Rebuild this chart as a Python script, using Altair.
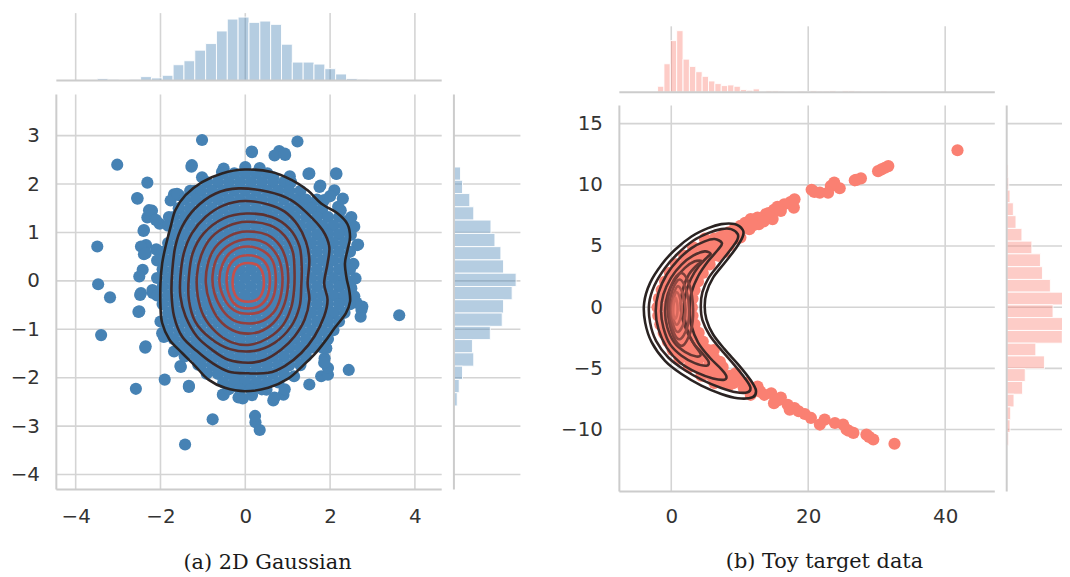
import altair as alt
import pandas as pd

# ------------------------------------------------------------------ data
A_X_TICKS = [-4, -2, 0, 2, 4]
A_Y_TICKS = [-4, -3, -2, -1, 0, 1, 2, 3]
B_X_TICKS = [0, 20, 40]
B_Y_TICKS = [-10, -5, 0, 5, 10, 15]

A_X_DOMAIN = [-4.456, 4.632]
A_Y_DOMAIN = [-4.31, 3.85]
B_X_DOMAIN = [-7.58, 47.25]
B_Y_DOMAIN = [-15.06, 16.49]

# marginal histograms (bin edges + counts)
A_TOP_EDGES = [-3.49, -3.235, -2.979, -2.724, -2.468, -2.213, -1.957, -1.702, -1.446, -1.191,
               -0.935, -0.680, -0.424, -0.169, 0.087, 0.343, 0.598, 0.854, 1.109, 1.365,
               1.620, 1.876, 2.131, 2.387, 2.642, 2.898, 3.153, 3.409, 3.664]
A_TOP_COUNTS = [3, 2, 0, 2, 6, 4, 8, 24, 30, 46, 56, 75, 93, 96, 88, 90, 85, 55, 28, 28,
                25, 18, 10, 3, 2, 0, 0, 1]
A_TOP_MAX = 102

A_RIGHT_EDGES = [2.352, 2.078, 1.804, 1.530, 1.255, 0.981, 0.707, 0.433, 0.158, -0.116,
                 -0.390, -0.665, -0.939, -1.213, -1.487, -1.762, -2.036, -2.310, -2.584]
A_RIGHT_COUNTS = [10, 13, 24, 30, 56, 62, 71, 75, 94, 88, 75, 73, 55, 28, 30, 13, 8, 5]
A_RIGHT_MAX = 100.5

B_TOP_EDGES = [-2.00, -1.07, -0.14, 0.79, 1.72, 2.65, 3.58, 4.51, 5.44, 6.37, 7.30, 8.23,
               9.16, 10.09, 11.02, 11.95, 12.88, 13.81, 14.74, 15.67, 16.60, 17.53, 18.46,
               19.39, 20.32, 21.25, 22.18, 23.11, 24.04, 24.97, 25.90, 26.83, 27.76, 28.69,
               29.62, 30.55, 31.48, 32.41, 33.34, 34.27, 35.20, 36.13, 37.06, 37.99, 38.92,
               39.85, 40.78, 41.71, 42.64]
B_TOP_COUNTS = [9, 43, 78, 93, 50, 39, 31, 24, 17, 13, 10, 11, 9, 4, 3, 5, 1, 2, 2, 1.5, 1, 1,
                1.5, 1, 2, 1.5, 1.5, 2, 1, 2, 2, 1.5, 1, 1, 1, 1.5, 1, 1,
                0, 0, 0, 0, 0, 0, 0, 0, 0, 1]
B_TOP_MAX = 99.6

B_RIGHT_EDGES = [11.65, 10.61, 9.57, 8.53, 7.48, 6.44, 5.40, 4.36, 3.31, 2.27, 1.23, 0.19,
                 -0.85, -1.90, -2.94, -3.98, -5.03, -6.07, -7.11, -8.15, -9.20, -10.24, -11.28]
B_RIGHT_COUNTS = [2, 3, 5, 10, 14, 23, 38, 51, 54, 66, 93, 70, 90, 84, 44, 57, 28, 24, 11, 6, 5, 3]
B_RIGHT_MAX = 100.5

# 2D Gaussian: points visible around the dense core
A_OUTER = [(-1.02, 2.91), (1.23, 2.88), (0.15, 2.67), (0.80, 2.68), (0.94, 2.60), (-3.02, 2.40),
           (-1.27, 2.36), (-2.31, 2.03), (-1.02, 2.14), (-0.55, 2.25), (0.00, 2.35), (0.34, 2.33),
           (0.66, 2.14), (1.05, 2.16), (1.49, 2.21), (2.15, 2.21), (1.77, 1.97), (-2.55, 1.71),
           (-1.68, 1.79), (-1.56, 1.77), (-1.19, 1.86), (-2.20, 1.45), (-2.31, 1.31), (-2.02, 1.18),
           (-2.40, 1.03), (-2.34, 0.74), (-2.10, 0.65), (-2.39, 0.55), (-3.49, 0.71), (-3.47, -0.07),
           (2.19, 1.53), (2.48, 1.29), (2.44, 1.05), (2.66, 0.75), (1.79, 1.40), (1.95, 0.98),
           (-1.76, 1.66), (1.31, 1.66), (1.55, 1.53),
           (-3.19, -0.34), (-2.48, -0.29), (-2.52, -0.64), (-2.18, -0.25), (-3.40, -1.12),
           (-2.36, -1.38), (-2.00, -0.84), (-1.92, -1.16), (-1.68, -1.46), (-1.52, -1.78),
           (-1.40, -1.39), (-1.19, -1.39), (-1.11, -1.73), (-1.90, -2.04), (-2.58, -2.23),
           (-1.33, -2.19), (-0.53, -2.35), (-0.06, -2.43), (0.16, -2.36), (0.50, -2.25),
           (0.66, -2.47), (0.90, -2.35), (-0.77, -2.86), (0.24, -2.92), (0.34, -3.08),
           (-1.42, -3.38), (1.51, -2.14), (1.79, -1.97), (1.95, -1.94), (1.95, -1.80),
           (1.87, -1.60), (1.91, -1.39), (2.44, -1.84), (1.15, -1.97), (2.74, -0.60),
           (2.72, -0.74), (2.56, -0.36), (2.27, -0.40), (2.07, -0.67), (3.63, -0.71),
           (2.23, -0.09), (-0.23, -2.04), (-0.63, -1.90),
           (-1.26, 2.39), (-2.54, 1.70), (-2.27, 1.46), (-2.11, 1.26), (-2.39, 1.05), (-2.46, 0.71),
           (-2.35, 0.57), (-2.42, 0.23), (-2.50, 0.09), (-2.46, -0.25), (-2.50, -0.63),
           (-2.19, -0.19), (-2.35, -1.35), (-1.96, -1.08), (-1.53, -1.76), (-1.33, -2.17),
           (-0.51, -2.35), (-0.16, -2.41), (0.23, -2.79), (0.69, -2.41), (0.93, -2.24),
           (1.86, -1.69), (2.76, -0.53), (2.57, -0.32), (2.64, 0.74), (2.49, 0.95), (2.57, 1.12),
           (2.50, 1.32), (2.25, 1.46), (2.14, 2.22), (1.51, 2.22), (0.69, 2.59), (0.93, 2.63),
           (0.16, 2.66), (-0.51, 2.32), (-1.61, 1.80), (-1.57, 1.50), (-1.80, 1.32), (1.75, 1.94),
           (1.86, 1.67), (2.10, 1.87), (2.55, 0.35), (2.60, 0.05), (2.50, -0.15), (2.62, -0.45),
           (2.30, 1.70), (2.00, 1.75)]

# 2D Gaussian: the solid, overplotted core, row by row (y, xs)
A_CORE_ROWS = [
    (2.22, [-0.52, -0.26, 0.00, 0.26, 0.52]),
    (2.04, [-0.91, -0.65, -0.39, -0.13, 0.13, 0.39, 0.65, 0.91, 1.08]),
    (1.86, [-1.30, -1.04, -0.78, -0.52, -0.26, 0.00, 0.26, 0.52, 0.78, 1.04, 1.30]),
    (1.68, [-1.43, -1.17, -0.91, -0.65, -0.39, -0.13, 0.13, 0.39, 0.65, 0.91, 1.17, 1.43, 1.69]),
    (1.50, [-1.56, -1.30, -1.04, -0.78, -0.52, -0.26, 0.00, 0.26, 0.52, 0.78, 1.04, 1.30, 1.56, 1.82]),
    (1.32, [-1.69, -1.43, -1.17, -0.91, -0.65, -0.39, -0.13, 0.13, 0.39, 0.65, 0.91, 1.17, 1.43, 1.69,
            1.95, 2.21]),
    (1.14, [-1.82, -1.56, -1.30, -1.04, -0.78, -0.52, -0.26, 0.00, 0.26, 0.52, 0.78, 1.04, 1.30, 1.56,
            1.82, 2.08, 2.34]),
    (0.96, [-1.69, -1.43, -1.17, -0.91, -0.65, -0.39, -0.13, 0.13, 0.39, 0.65, 0.91, 1.17, 1.43, 1.69,
            1.95, 2.21, 2.47]),
    (0.78, [-1.82, -1.56, -1.30, -1.04, -0.78, -0.52, -0.26, 0.00, 0.26, 0.52, 0.78, 1.04, 1.30, 1.56,
            1.82, 2.08, 2.34]),
    (0.60, [-1.95, -1.69, -1.43, -1.17, -0.91, -0.65, -0.39, -0.13, 0.13, 0.39, 0.65, 0.91, 1.17, 1.43,
            1.69, 1.95, 2.21, 2.47]),
    (0.42, [-2.08, -1.82, -1.56, -1.30, -1.04, -0.78, -0.52, -0.26, 0.00, 0.26, 0.52, 0.78, 1.04, 1.30,
            1.56, 1.82, 2.08, 2.34]),
    (0.24, [-1.95, -1.69, -1.43, -1.17, -0.91, -0.65, -0.39, -0.13, 0.13, 0.39, 0.65, 0.91, 1.17, 1.43,
            1.69, 1.95, 2.21, 2.47]),
    (0.06, [-2.08, -1.82, -1.56, -1.30, -1.04, -0.78, -0.52, -0.26, 0.00, 0.26, 0.52, 0.78, 1.04, 1.30,
            1.56, 1.82, 2.08, 2.34]),
    (-0.12, [-1.95, -1.69, -1.43, -1.17, -0.91, -0.65, -0.39, -0.13, 0.13, 0.39, 0.65, 0.91, 1.17, 1.43,
             1.69, 1.95, 2.21, 2.47]),
    (-0.30, [-2.08, -1.82, -1.56, -1.30, -1.04, -0.78, -0.52, -0.26, 0.00, 0.26, 0.52, 0.78, 1.04, 1.30,
             1.56, 1.82, 2.08, 2.34]),
    (-0.48, [-1.95, -1.69, -1.43, -1.17, -0.91, -0.65, -0.39, -0.13, 0.13, 0.39, 0.65, 0.91, 1.17, 1.43,
             1.69, 1.95, 2.21, 2.47]),
    (-0.66, [-1.82, -1.56, -1.30, -1.04, -0.78, -0.52, -0.26, 0.00, 0.26, 0.52, 0.78, 1.04, 1.30, 1.56,
             1.82, 2.08, 2.34]),
    (-0.84, [-1.95, -1.69, -1.43, -1.17, -0.91, -0.65, -0.39, -0.13, 0.13, 0.39, 0.65, 0.91, 1.17, 1.43,
             1.69, 1.95, 2.21]),
    (-1.02, [-1.82, -1.56, -1.30, -1.04, -0.78, -0.52, -0.26, 0.00, 0.26, 0.52, 0.78, 1.04, 1.30, 1.56,
             1.82, 2.08]),
    (-1.20, [-1.69, -1.43, -1.17, -0.91, -0.65, -0.39, -0.13, 0.13, 0.39, 0.65, 0.91, 1.17, 1.43, 1.69,
             1.95]),
    (-1.38, [-1.56, -1.30, -1.04, -0.78, -0.52, -0.26, 0.00, 0.26, 0.52, 0.78, 1.04, 1.30, 1.56, 1.82]),
    (-1.56, [-1.43, -1.17, -0.91, -0.65, -0.39, -0.13, 0.13, 0.39, 0.65, 0.91, 1.17, 1.43]),
    (-1.74, [-1.04, -0.78, -0.52, -0.26, 0.00, 0.26, 0.52, 0.78, 1.04, 1.30]),
    (-1.92, [-0.91, -0.65, -0.39, -0.13, 0.13, 0.39, 0.65, 0.91]),
    (-2.10, [-0.52, -0.26, 0.00, 0.26, 0.52, 0.78]),
    (-2.24, [-0.39, -0.13, 0.13, 0.39]),
]

# Toy target: the two arms and the overplotted crescent core
B_UPPER = [(41.8, 12.83), (31.7, 11.53), (31.2, 11.40), (30.7, 11.26), (30.2, 11.12), (27.7, 10.53),
           (27.0, 10.40), (26.8, 10.37), (24.6, 9.72), (23.8, 10.18), (23.3, 9.90), (22.9, 9.36),
           (21.7, 9.36), (20.9, 9.42), (20.5, 9.60), (18.0, 8.82), (17.9, 8.14), (17.4, 8.60),
           (16.5, 8.41), (16.0, 7.87), (15.5, 8.20), (15.0, 7.95), (14.8, 7.20), (14.2, 7.70),
           (13.8, 7.60), (13.2, 7.20), (12.6, 7.33), (11.6, 7.20), (12.8, 6.79), (11.4, 6.38),
           (10.1, 6.65), (9.7, 6.11), (9.2, 6.38), (8.4, 6.11), (7.7, 5.98), (7.0, 5.70), (6.2, 5.30),
           (9.2, 5.57), (10.1, 5.70), (8.4, 5.03), (7.7, 4.49), (10.8, 6.90), (12.0, 6.70),
           (13.5, 7.00)]
B_LOWER = [(32.6, -11.16), (29.5, -10.81), (28.9, -10.60), (28.5, -10.41), (26.6, -10.27),
           (25.9, -10.10), (25.6, -10.00), (25.1, -9.59), (23.9, -9.46), (22.4, -9.19),
           (21.7, -9.59), (20.4, -9.05), (19.5, -8.73), (18.0, -8.24), (17.3, -8.38), (17.0, -7.97),
           (16.0, -7.38), (15.0, -7.84), (14.6, -7.03), (13.6, -7.16), (12.6, -6.49), (11.6, -7.16),
           (12.2, -6.80), (10.6, -6.62), (9.7, -5.95), (9.4, -5.41), (8.4, -6.35), (7.7, -6.08),
           (7.0, -5.68), (7.1, -4.46), (6.2, -3.51), (11.0, -6.20), (13.0, -6.90), (15.6, -7.60),
           (18.6, -8.50)]
B_CORE_ROWS = [
    (5.6, [4.9, 6.3, 7.7]),
    (4.9, [3.2, 4.6, 6.0, 7.4]),
    (4.2, [1.9, 3.3, 4.7, 6.1, 6.9]),
    (3.5, [0.7, 2.1, 3.5, 4.9, 5.6]),
    (2.8, [-0.2, 1.2, 2.6, 4.0, 4.6]),
    (2.1, [-0.9, 0.5, 1.9, 3.3, 3.9]),
    (1.4, [-1.4, 0.0, 1.4, 2.8, 3.4]),
    (0.7, [-1.8, -0.4, 1.0, 2.4, 3.1]),
    (0.0, [-2.0, -0.6, 0.8, 2.2, 3.0]),
    (-0.7, [-1.9, -0.5, 0.9, 2.3, 3.1]),
    (-1.4, [-1.6, -0.2, 1.2, 2.6, 3.4]),
    (-2.1, [-1.1, 0.3, 1.7, 3.1, 4.0]),
    (-2.8, [-0.5, 0.9, 2.3, 3.7, 4.6]),
    (-3.5, [0.2, 1.6, 3.0, 4.4, 5.4]),
    (-4.2, [1.2, 2.6, 4.0, 5.4, 6.3]),
    (-4.9, [2.6, 4.0, 5.4, 6.8, 7.5]),
    (-5.6, [4.4, 5.8, 7.2, 8.6]),
    (-6.2, [6.3, 7.7, 9.1]),
]

# KDE contour lines (outermost first)
A_CONTOURS = [
    [(-0.01, 2.30), (0.62, 2.25), (1.08, 2.09), (1.47, 1.87), (1.79, 1.60), (2.18, 1.39), (2.41, 1.17),
     (2.47, 0.90), (2.41, 0.64), (2.35, 0.36), (2.39, 0.05), (2.45, -0.19), (2.47, -0.43),
     (2.37, -0.67), (2.11, -0.97), (1.88, -1.25), (1.63, -1.52), (1.36, -1.75), (1.01, -2.02),
     (0.54, -2.21), (-0.01, -2.28), (-0.48, -2.21), (-0.87, -2.04), (-1.18, -1.76), (-1.49, -1.49),
     (-1.79, -1.21), (-1.96, -0.87), (-2.00, -0.53), (-2.00, -0.05), (-1.96, 0.36), (-1.88, 0.71),
     (-1.76, 1.12), (-1.65, 1.46), (-1.41, 1.77), (-1.02, 2.04), (-0.55, 2.22)],
    [(-0.16, 1.91), (0.54, 1.84), (1.08, 1.67), (1.47, 1.39), (1.82, 1.05), (1.98, 0.71), (1.94, 0.36),
     (1.86, -0.05), (1.94, -0.39), (1.86, -0.73), (1.63, -1.15), (1.32, -1.49), (0.93, -1.76),
     (0.54, -1.90), (0.07, -1.91), (-0.40, -1.87), (-0.79, -1.69), (-1.14, -1.45), (-1.49, -1.15),
     (-1.68, -0.73), (-1.74, -0.25), (-1.72, 0.23), (-1.65, 0.71), (-1.49, 1.12), (-1.18, 1.50),
     (-0.71, 1.80)],
    [(-0.01, 1.65), (0.54, 1.58), (0.93, 1.43), (1.24, 1.15), (1.43, 0.81), (1.51, 0.43), (1.47, -0.05),
     (1.51, -0.39), (1.40, -0.80), (1.16, -1.15), (0.85, -1.42), (0.46, -1.63), (0.07, -1.69),
     (-0.40, -1.63), (-0.79, -1.42), (-1.14, -1.15), (-1.41, -0.73), (-1.53, -0.32), (-1.53, 0.09),
     (-1.45, 0.57), (-1.26, 0.98), (-0.94, 1.32), (-0.51, 1.56)],
    [(0.03, 1.39), (0.62, 1.32), (1.04, 1.08), (1.28, 0.71), (1.33, 0.29), (1.32, -0.12), (1.28, -0.53),
     (1.08, -0.94), (0.69, -1.28), (0.19, -1.45), (-0.36, -1.41), (-0.83, -1.18), (-1.18, -0.84),
     (-1.33, -0.39), (-1.33, 0.09), (-1.24, 0.57), (-0.98, 0.98), (-0.51, 1.29)],
    [(0.03, 1.22), (0.58, 1.15), (0.93, 0.93), (1.12, 0.60), (1.16, 0.23), (1.15, -0.19), (1.08, -0.56),
     (0.89, -0.91), (0.54, -1.18), (0.11, -1.32), (-0.32, -1.27), (-0.69, -1.06), (-0.98, -0.73),
     (-1.12, -0.32), (-1.14, 0.12), (-1.04, 0.53), (-0.80, 0.90), (-0.41, 1.13)],
    [(0.03, 1.02), (0.52, 0.95), (0.83, 0.71), (0.98, 0.36), (1.01, -0.05), (0.93, -0.46), (0.73, -0.80),
     (0.42, -1.02), (0.07, -1.09), (-0.30, -1.02), (-0.62, -0.80), (-0.83, -0.46), (-0.93, -0.05),
     (-0.88, 0.36), (-0.71, 0.69), (-0.37, 0.93)],
    [(0.05, 0.86), (0.48, 0.78), (0.76, 0.51), (0.87, 0.16), (0.85, -0.25), (0.71, -0.60), (0.42, -0.82),
     (0.09, -0.88), (-0.26, -0.82), (-0.54, -0.60), (-0.73, -0.25), (-0.77, 0.12), (-0.65, 0.50),
     (-0.36, 0.75)],
    [(0.05, 0.71), (0.42, 0.62), (0.65, 0.40), (0.72, 0.02), (0.65, -0.36), (0.42, -0.61), (0.07, -0.68),
     (-0.26, -0.61), (-0.49, -0.38), (-0.61, -0.01), (-0.53, 0.36), (-0.30, 0.62)],
    [(0.06, 0.53), (0.37, 0.46), (0.54, 0.26), (0.58, -0.03), (0.52, -0.32), (0.34, -0.51), (0.07, -0.57),
     (-0.20, -0.51), (-0.37, -0.32), (-0.44, -0.03), (-0.40, 0.26), (-0.23, 0.46)],
    [(0.07, 0.37), (0.34, 0.28), (0.44, -0.03), (0.34, -0.34), (0.07, -0.43), (-0.20, -0.34),
     (-0.30, -0.03), (-0.20, 0.28)],
]
B_CONTOURS = [
    [(10.44, 6.32), (9.23, 6.79), (7.30, 6.79), (5.37, 6.46), (2.95, 5.78), (0.54, 4.70), (-1.40, 3.49),
     (-3.09, 1.99), (-3.96, 0.36), (-3.81, -1.26), (-2.85, -2.88), (-0.91, -4.38), (1.50, -5.46),
     (4.40, -6.41), (7.30, -7.09), (9.71, -7.44), (11.88, -7.36), (12.37, -6.81), (11.65, -6.01),
     (9.95, -4.79), (7.78, -3.43), (6.09, -2.21), (5.13, -0.99), (4.88, 0.09), (5.13, 1.18),
     (6.09, 2.40), (7.78, 3.61), (9.47, 4.84), (10.44, 5.78)],
    [(9.71, 5.97), (8.75, 6.38), (7.30, 6.38), (5.37, 6.05), (3.19, 5.43), (0.92, 4.37), (-0.91, 3.21),
     (-2.46, 1.77), (-3.23, 0.31), (-3.09, -1.26), (-2.22, -2.75), (-0.43, -4.11), (1.89, -5.11),
     (4.64, -5.98), (7.30, -6.60), (9.48, -6.95), (11.16, -6.95), (11.55, -6.55), (10.78, -5.82),
     (9.23, -4.73), (7.30, -3.49), (5.61, -2.29), (4.55, -1.05), (4.31, 0.09), (4.55, 1.23),
     (5.46, 2.40), (7.06, 3.56), (8.65, 4.70), (9.61, 5.46)],
    [(7.40, 5.24), (6.33, 5.57), (4.88, 5.38), (2.95, 4.83), (1.02, 3.89), (-0.67, 2.67), (-1.87, 1.18),
     (-2.27, -0.31), (-1.87, -1.80), (-0.67, -3.30), (1.26, -4.52), (3.68, -5.33), (6.09, -5.82),
     (7.78, -5.92), (8.02, -5.60), (7.30, -5.06), (5.61, -4.11), (3.92, -2.89), (2.95, -1.53),
     (2.71, -0.18), (2.95, 1.18), (3.92, 2.53), (5.37, 3.75), (6.82, 4.70)],
    [(5.75, 4.37), (4.88, 4.56), (3.19, 4.21), (1.50, 3.48), (-0.04, 2.40), (-1.15, 1.04), (-1.49, -0.31),
     (-1.15, -1.67), (-0.19, -3.02), (1.50, -3.97), (3.43, -4.57), (5.13, -4.78), (5.46, -4.46),
     (4.64, -3.84), (3.19, -2.89), (2.23, -1.67), (1.89, -0.31), (2.08, 1.04), (2.86, 2.31),
     (4.01, 3.34), (5.27, 4.10)],
    [(4.50, 3.75), (3.43, 3.75), (1.99, 3.21), (0.54, 2.26), (-0.53, 1.04), (-0.91, -0.31), (-0.57, -1.67),
     (0.44, -2.89), (1.99, -3.65), (3.68, -4.03), (4.30, -3.84), (3.43, -3.11), (2.37, -2.08),
     (1.60, -0.86), (1.41, 0.36), (1.75, 1.58), (2.57, 2.67), (3.68, 3.40)],
    [(1.50, 2.80), (2.71, 1.72), (3.19, -0.17), (2.86, -1.94), (1.60, -3.15), (0.29, -2.35),
     (-0.53, -0.17), (0.05, 1.85)],
    [(1.26, 2.26), (2.23, 1.31), (2.61, -0.18), (2.32, -1.67), (1.26, -2.62), (0.29, -1.94),
     (-0.29, -0.18), (0.20, 1.45)],
    [(1.02, 1.72), (1.79, 0.91), (2.08, -0.18), (1.84, -1.26), (1.02, -2.02), (0.34, -1.53),
     (-0.04, -0.18), (0.34, 1.04)],
    [(0.83, 1.23), (1.36, 0.58), (1.50, -0.18), (1.31, -0.94), (0.83, -1.43), (0.34, -0.99),
     (0.15, -0.18), (0.34, 0.69)],
    [(0.63, 0.77), (0.87, 0.31), (0.92, -0.18), (0.83, -0.67), (0.58, -0.94), (0.34, -0.67),
     (0.29, -0.18), (0.39, 0.36)],
]

A_CAPTION = "(a) 2D Gaussian"
B_CAPTION = "(b) Toy target data"

# ------------------------------------------------------------------ style / layout
W, H = 1062, 569
A_XR, A_YR = [48.7, 437.0], [483.0, 85.0]
A_TOP_YR, A_RIGHT_XR = [71.0, 3.0], [449.3, 516.3]
B_XR, B_YR = [616.0, 994.3], [485.0, 96.0]
B_TOP_YR, B_RIGHT_XR = [82.7, 16.3], [1006.3, 1073.3]

FONT = "DejaVu Sans"
LABEL_SIZE = 20
LABEL_COLOR = "#333333"
GRID = "#d4d4d4"
SPINE = "#cccccc"
BLUE = "#4682b4"
SALMON = "#fa8072"
POINT_SIZE = 150
A_COLORS = ["#2b2424", "#3b2828", "#4c2c2c", "#5d3130", "#6f3634", "#813b39", "#93403e",
            "#a54543", "#b64a47", "#c5504c"]
B_COLORS = ["#2a2322", "#342625", "#412a28", "#52302d", "#653733", "#7a3f3a", "#904842",
            "#a8524a", "#c05d53", "#d6685c"]


def S(dom, rng):
    return alt.Scale(domain=list(dom), range=list(rng), nice=False, zero=False)


a_x, a_y = S(A_X_DOMAIN, A_XR), S(A_Y_DOMAIN, A_YR)
a_top_y = S([0, A_TOP_MAX], A_TOP_YR)
a_right_x = S([0, A_RIGHT_MAX], A_RIGHT_XR)
b_x, b_y = S(B_X_DOMAIN, B_XR), S(B_Y_DOMAIN, B_YR)
b_top_y = S([0, B_TOP_MAX], B_TOP_YR)
b_right_x = S([0, B_RIGHT_MAX], B_RIGHT_XR)


def x_axis(values, offset, pad):
    return alt.Axis(values=values, orient="bottom", offset=offset, domain=False, ticks=False,
                    tickSize=0, grid=False, labelPadding=pad, labelFont=FONT,
                    labelFontSize=LABEL_SIZE, labelColor=LABEL_COLOR, labelFlush=False,
                    labelOverlap=False, format="d")


def y_axis(values, offset, pad):
    return alt.Axis(values=values, orient="left", offset=offset, domain=False, ticks=False,
                    tickSize=0, grid=False, labelPadding=pad, labelFont=FONT,
                    labelFontSize=LABEL_SIZE, labelColor=LABEL_COLOR, labelFlush=False,
                    labelOverlap=False, format="d")


def vrules(vals, lo, hi, xs, ys, color, sw, axis=None):
    df = pd.DataFrame({"v": vals, "a": lo, "b": hi})
    return alt.Chart(df).mark_rule(color=color, strokeWidth=sw).encode(
        x=alt.X("v:Q", scale=xs, axis=axis, title=None),
        y=alt.Y("a:Q", scale=ys, axis=None),
        y2="b:Q")


def hrules(vals, lo, hi, xs, ys, color, sw, axis=None):
    df = pd.DataFrame({"v": vals, "a": lo, "b": hi})
    return alt.Chart(df).mark_rule(color=color, strokeWidth=sw).encode(
        y=alt.Y("v:Q", scale=ys, axis=axis, title=None),
        x=alt.X("a:Q", scale=xs, axis=None),
        x2="b:Q")


def top_hist(edges, counts, xs, ys, color):
    df = pd.DataFrame({"e0": edges[:-1], "e1": edges[1:], "c": counts, "z": 0.0})
    df = df[df.c > 0]
    return alt.Chart(df).mark_rect(fill=color, fillOpacity=0.4, stroke="white",
                                   strokeWidth=1, strokeOpacity=0.9).encode(
        x=alt.X("e0:Q", scale=xs, axis=None), x2="e1:Q",
        y=alt.Y("z:Q", scale=ys, axis=None), y2="c:Q")


def right_hist(edges, counts, xs, ys, color):
    df = pd.DataFrame({"e0": edges[1:], "e1": edges[:-1], "c": counts, "z": 0.0})
    df = df[df.c > 0]
    return alt.Chart(df).mark_rect(fill=color, fillOpacity=0.4, stroke="white",
                                   strokeWidth=1, strokeOpacity=0.9).encode(
        y=alt.Y("e0:Q", scale=ys, axis=None), y2="e1:Q",
        x=alt.X("z:Q", scale=xs, axis=None), x2="c:Q")


def scatter(points, rows, xs, ys, color):
    pts = list(points)
    for yv, xvals in rows:
        pts += [(xv, yv) for xv in xvals]
    df = pd.DataFrame(pts, columns=["x", "y"])
    return alt.Chart(df).mark_circle(size=POINT_SIZE, opacity=1, color=color).encode(
        x=alt.X("x:Q", scale=xs, axis=None), y=alt.Y("y:Q", scale=ys, axis=None))


def contour_lines(clist, colors, xs, ys):
    recs = []
    for k, c in enumerate(clist):
        for i, (xv, yv) in enumerate(c):
            recs.append({"x": xv, "y": yv, "lvl": f"L{k}", "i": i})
    df = pd.DataFrame(recs)
    names = [f"L{k}" for k in range(len(clist))]
    return alt.Chart(df).mark_line(interpolate="cardinal-closed", strokeWidth=2.6,
                                   strokeJoin="round").encode(
        x=alt.X("x:Q", scale=xs, axis=None), y=alt.Y("y:Q", scale=ys, axis=None),
        color=alt.Color("lvl:N", scale=alt.Scale(domain=names, range=colors[:len(names)]),
                        legend=None),
        order=alt.Order("i:Q"))


def caption(text, xdom, ydom, xs, ys, dx, dy):
    df = pd.DataFrame({"x": [(xdom[0] + xdom[1]) / 2], "y": [ydom[0]], "t": [text]})
    return alt.Chart(df).mark_text(font="DejaVu Serif", fontSize=21, color="#1a1a1a",
                                   align="center", baseline="alphabetic", dx=dx, dy=dy).encode(
        x=alt.X("x:Q", scale=xs, axis=None), y=alt.Y("y:Q", scale=ys, axis=None), text="t:N")


layers = [
    # grids (with tick labels)
    vrules(A_X_TICKS, A_Y_DOMAIN[0], A_Y_DOMAIN[1], a_x, a_y, GRID, 1.6,
           axis=x_axis(A_X_TICKS, A_YR[0] - H, 17)),
    hrules(A_Y_TICKS, A_X_DOMAIN[0], A_X_DOMAIN[1], a_x, a_y, GRID, 1.6,
           axis=y_axis(A_Y_TICKS, -A_XR[0], 17)),
    vrules(A_X_TICKS, 0, A_TOP_MAX, a_x, a_top_y, GRID, 1.6),
    hrules(A_Y_TICKS, 0, A_RIGHT_MAX, a_right_x, a_y, GRID, 1.6),
    vrules(B_X_TICKS, B_Y_DOMAIN[0], B_Y_DOMAIN[1], b_x, b_y, GRID, 1.6,
           axis=x_axis(B_X_TICKS, B_YR[0] - H, 15)),
    hrules(B_Y_TICKS, B_X_DOMAIN[0], B_X_DOMAIN[1], b_x, b_y, GRID, 1.6,
           axis=y_axis(B_Y_TICKS, -B_XR[0], 17)),
    vrules(B_X_TICKS, 0, B_TOP_MAX, b_x, b_top_y, GRID, 1.6),
    hrules(B_Y_TICKS, 0, B_RIGHT_MAX, b_right_x, b_y, GRID, 1.6),
    # marginal histograms
    top_hist(A_TOP_EDGES, A_TOP_COUNTS, a_x, a_top_y, BLUE),
    right_hist(A_RIGHT_EDGES, A_RIGHT_COUNTS, a_right_x, a_y, BLUE),
    top_hist(B_TOP_EDGES, B_TOP_COUNTS, b_x, b_top_y, SALMON),
    right_hist(B_RIGHT_EDGES, B_RIGHT_COUNTS, b_right_x, b_y, SALMON),
    # spines
    vrules([A_X_DOMAIN[0]], A_Y_DOMAIN[0], A_Y_DOMAIN[1], a_x, a_y, SPINE, 2),
    hrules([A_Y_DOMAIN[0]], A_X_DOMAIN[0], A_X_DOMAIN[1], a_x, a_y, SPINE, 2),
    hrules([0], A_X_DOMAIN[0], A_X_DOMAIN[1], a_x, a_top_y, SPINE, 2),
    vrules([0], A_Y_DOMAIN[0], A_Y_DOMAIN[1], a_right_x, a_y, SPINE, 2),
    vrules([B_X_DOMAIN[0]], B_Y_DOMAIN[0], B_Y_DOMAIN[1], b_x, b_y, SPINE, 2),
    hrules([B_Y_DOMAIN[0]], B_X_DOMAIN[0], B_X_DOMAIN[1], b_x, b_y, SPINE, 2),
    hrules([0], B_X_DOMAIN[0], B_X_DOMAIN[1], b_x, b_top_y, SPINE, 2),
    vrules([0], B_Y_DOMAIN[0], B_Y_DOMAIN[1], b_right_x, b_y, SPINE, 2),
    # joint scatter + KDE contours
    scatter(A_OUTER, A_CORE_ROWS, a_x, a_y, BLUE),
    contour_lines(A_CONTOURS, A_COLORS, a_x, a_y),
    scatter(B_UPPER + B_LOWER, B_CORE_ROWS, b_x, b_y, SALMON),
    contour_lines(B_CONTOURS, B_COLORS, b_x, b_y),
    # captions
    caption(A_CAPTION, A_X_DOMAIN, A_Y_DOMAIN, a_x, a_y, 18.6, 79.7),
    caption(B_CAPTION, B_X_DOMAIN, B_Y_DOMAIN, b_x, b_y, 17.5, 77.5),
]

chart = (
    alt.layer(*layers)
    .resolve_scale(x="independent", y="independent", color="independent")
    .resolve_axis(x="independent", y="independent")
    .properties(width=W, height=H, autosize=alt.AutoSizeParams(type="none"), padding=0,
                background="white")
    .configure_view(strokeWidth=0)
)

chart.save("out.html", embed_options={"renderer": "svg", "actions": False})
